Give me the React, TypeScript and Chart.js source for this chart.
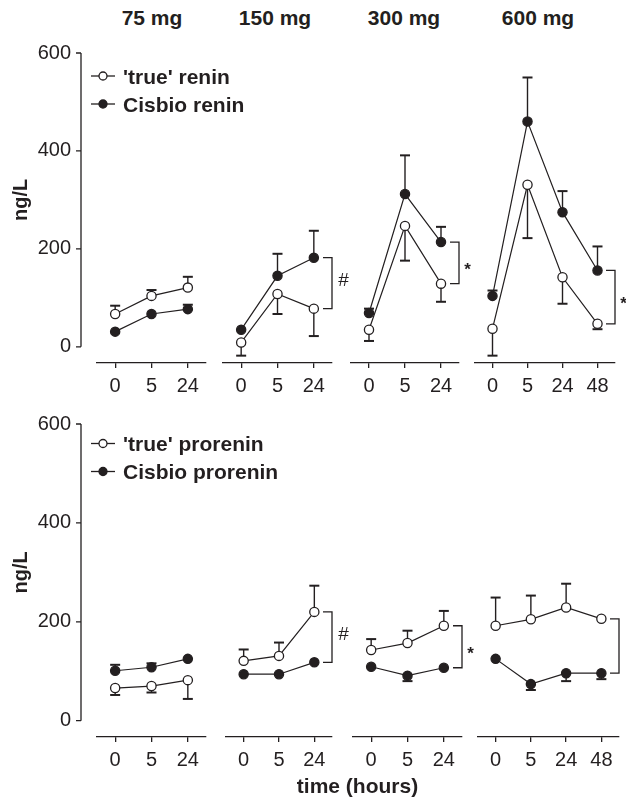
import React, { useEffect, useRef } from 'react';
import { Chart, registerables } from 'chart.js';

Chart.register(...registerables);

// ---------- data ----------
const doseLabels = ['75 mg', '150 mg', '300 mg', '600 mg'];
const timesShort = ['0', '5', '24'];
const timesLong = ['0', '5', '24', '48'];
const yTickValues = [0, 200, 400, 600];
const Y_MIN = -33;
const Y_MAX = 600;
const yTitle = 'ng/L';
const xTitle = 'time (hours)';

// renin (top row), one inner array per dose
const reninLabels = ["'true' renin", 'Cisbio renin'];
const trueReninValues = [[67, 104, 121], [9, 108, 78], [35, 247, 129], [37, 331, 142, 47]];
const trueReninErrors = [[17, 12, 22], [27, 41, 56], [23, 71, 37], [55, 109, 54, 11]];
const trueReninDir = ['up', 'down', 'down', 'down'];
const cisbioReninValues = [[31, 67, 77], [35, 145, 182], [69, 312, 214], [104, 460, 275, 156]];
const cisbioReninErrors = [[0, 0, 9], [0, 45, 55], [9, 79, 31], [11, 90, 43, 49]];
const cisbioReninDir = ['up', 'up', 'up', 'up'];
const reninBracket = [false, true, true, true];
const reninSig = ['', '#', '*', '*'];

// prorenin (bottom row)
const proreninLabels = ["'true' prorenin", 'Cisbio prorenin'];
const trueProreninValues = [[66, 70, 82], [121, 131, 220], [143, 157, 192], [192, 205, 229, 206]];
const trueProreninErrors = [[14, 13, 38], [23, 27, 53], [22, 25, 30], [57, 48, 48, 0]];
const trueProreninDir = ['down', 'up', 'up', 'up'];
const cisbioProreninValues = [[101, 108, 125], [94, 94, 118], [109, 91, 107], [125, 74, 96, 96]];
const cisbioProreninErrors = [[12, 8, 0], [0, 0, 0], [0, 11, 0], [0, 12, 16, 12]];
const cisbioProreninDir = ['up', 'down', 'down', 'down'];
const proreninBracket = [false, true, true, true];
const proreninSig = ['', '#', '*', ''];

// ---------- style / layout ----------
const INK = '#231f20';
const FONT = '"Liberation Sans", Arial, Helvetica, sans-serif';
const ROWS = [
  { chartTop: 53, chartBottom: 363, legendOffset: 23, areas: [[97, 206], [223, 332], [351, 459], [475, 615]] },
  { chartTop: 424, chartBottom: 737, legendOffset: 19.5, areas: [[97, 206], [226, 332], [353, 462], [478, 619]] },
];
const TITLE_X = [152, 275, 404, 538];

// ---------- plugins ----------
const errorBarPlugin = {
  id: 'errorBars',
  beforeDatasetsDraw(chart: any) {
    const ctx = chart.ctx;
    const y = chart.scales.y;
    chart.data.datasets.forEach((ds: any, di: number) => {
      const meta = chart.getDatasetMeta(di);
      ds.data.forEach((v: number, i: number) => {
        const e = ds.errors ? ds.errors[i] : 0;
        if (!e) return;
        const end = ds.errorDir === 'up' ? v + e : v - e;
        const px = meta.data[i].x;
        const y0 = y.getPixelForValue(v);
        const y1 = y.getPixelForValue(end);
        ctx.save();
        ctx.strokeStyle = INK;
        ctx.lineWidth = 1.4;
        ctx.beginPath();
        ctx.moveTo(px, y0);
        ctx.lineTo(px, y1);
        ctx.stroke();
        ctx.lineWidth = 2;
        ctx.beginPath();
        ctx.moveTo(px - 5, y1);
        ctx.lineTo(px + 5, y1);
        ctx.stroke();
        ctx.restore();
      });
    });
  },
};

const yAxisDecorPlugin = {
  id: 'yAxisDecor',
  afterDraw(chart: any, _args: any, opts: any) {
    if (!opts || !opts.show) return;
    const ctx = chart.ctx;
    const y = chart.scales.y;
    const x = chart.chartArea.left - 16;
    const ticks = y.ticks;
    ctx.save();
    ctx.strokeStyle = INK;
    ctx.lineWidth = 1.3;
    ctx.beginPath();
    ctx.moveTo(x, y.getPixelForValue(ticks[0].value));
    ctx.lineTo(x, y.getPixelForValue(ticks[ticks.length - 1].value));
    ticks.forEach((t: any) => {
      const py = y.getPixelForValue(t.value);
      ctx.moveTo(x - 5, py);
      ctx.lineTo(x, py);
    });
    ctx.stroke();
    // axis title
    ctx.fillStyle = INK;
    ctx.font = 'bold 20px ' + FONT;
    ctx.textAlign = 'center';
    ctx.textBaseline = 'alphabetic';
    ctx.translate(27, y.getPixelForValue((ticks[0].value + ticks[ticks.length - 1].value) / 2));
    ctx.rotate(-Math.PI / 2);
    ctx.fillText(yTitle, 0, 0);
    ctx.restore();
  },
};

const seriesLegendPlugin = {
  id: 'seriesLegend',
  afterDraw(chart: any, _args: any, opts: any) {
    if (!opts || !opts.show) return;
    const ctx = chart.ctx;
    const { left, top } = chart.chartArea;
    chart.data.datasets.forEach((ds: any, i: number) => {
      const cy = top + opts.offset + i * 28;
      ctx.save();
      ctx.strokeStyle = INK;
      ctx.lineWidth = 1.3;
      ctx.beginPath();
      ctx.moveTo(left - 6, cy);
      ctx.lineTo(left + 18, cy);
      ctx.stroke();
      ctx.beginPath();
      ctx.arc(left + 6, cy, 4, 0, Math.PI * 2);
      ctx.fillStyle = ds.pointBackgroundColor;
      ctx.fill();
      ctx.stroke();
      ctx.fillStyle = INK;
      ctx.font = 'bold 21px ' + FONT;
      ctx.textAlign = 'left';
      ctx.textBaseline = 'alphabetic';
      ctx.fillText(ds.label, left + 26, cy + 7.5);
      ctx.restore();
    });
  },
};

const bracketPlugin = {
  id: 'sigBracket',
  afterDatasetsDraw(chart: any, _args: any, opts: any) {
    if (!opts || !opts.show) return;
    const ctx = chart.ctx;
    const y = chart.scales.y;
    const dsA = chart.data.datasets[0].data;
    const dsB = chart.data.datasets[1].data;
    const ya = y.getPixelForValue(dsA[dsA.length - 1]);
    const yb = y.getPixelForValue(dsB[dsB.length - 1]);
    const x = chart.chartArea.right;
    ctx.save();
    ctx.strokeStyle = INK;
    ctx.lineWidth = 1.3;
    ctx.beginPath();
    ctx.moveTo(x - 9, ya);
    ctx.lineTo(x, ya);
    ctx.lineTo(x, yb);
    ctx.lineTo(x - 9, yb);
    ctx.stroke();
    const mid = (ya + yb) / 2;
    ctx.fillStyle = INK;
    ctx.textAlign = 'center';
    ctx.textBaseline = 'alphabetic';
    if (opts.symbol === '#') {
      ctx.font = '19px ' + FONT;
      ctx.fillText('#', x + 11.5, mid + 3);
    } else if (opts.symbol) {
      ctx.font = 'bold 17px ' + FONT;
      ctx.fillText(opts.symbol, x + 8.5, mid + 12);
    }
    ctx.restore();
  },
};

// ---------- components ----------
type Series = { label: string; values: number[]; errors: number[]; dir: string; filled: boolean };

function Panel({ rowIdx, panelIdx, labels, series, bracket, sig }: { rowIdx: number; panelIdx: number; labels: string[]; series: Series[]; bracket: boolean; sig: string }) {
  const ref = useRef<HTMLCanvasElement>(null);
  const row = ROWS[rowIdx];
  const [L, R] = row.areas[panelIdx];
  const first = panelIdx === 0;
  const padT = 40;
  const padR = first ? 120 : 30;
  const padL = first ? 0 : 12;
  const axisH = 40;
  const canvasLeft = first ? 0 : L - padL;
  const width = R - canvasLeft + padR;
  const top = row.chartTop - padT;
  const height = row.chartBottom - row.chartTop + padT + axisH;

  useEffect(() => {
    if (!ref.current) return;
    const chart = new Chart(ref.current, {
      type: 'line',
      data: {
        labels,
        datasets: series.map((s) => ({
          label: s.label,
          data: s.values,
          errors: s.errors,
          errorDir: s.dir,
          borderColor: INK,
          borderWidth: 1.2,
          tension: 0,
          fill: false,
          pointRadius: 4.6,
          pointBorderWidth: 1.3,
          pointBorderColor: INK,
          pointBackgroundColor: s.filled ? INK : '#ffffff',
          clip: false,
        })) as any,
      },
      options: {
        responsive: false,
        maintainAspectRatio: false,
        animation: false,
        devicePixelRatio: 1,
        events: [],
        layout: { padding: { left: padL, right: padR, top: padT, bottom: 0 } },
        plugins: {
          legend: { display: false },
          tooltip: { enabled: false },
          title: { display: false },
          yAxisDecor: { show: first },
          seriesLegend: { show: first, offset: row.legendOffset },
          sigBracket: { show: bracket, symbol: sig },
        } as any,
        scales: {
          x: {
            type: 'category',
            offset: true,
            grid: { display: true, drawOnChartArea: false, drawTicks: true, tickLength: 5, color: INK, lineWidth: 1.3, offset: false },
            border: { display: true, color: INK, width: 1.3 },
            ticks: { color: INK, font: { family: FONT, size: 20 }, padding: 6, maxRotation: 0, minRotation: 0, autoSkip: false },
            afterFit: (s: any) => { s.height = axisH; },
          },
          y: {
            type: 'linear',
            display: first,
            min: Y_MIN,
            max: Y_MAX,
            border: { display: false },
            grid: { display: false, drawTicks: false },
            ticks: { stepSize: 200, color: INK, font: { family: FONT, size: 20 }, padding: 26 },
            afterBuildTicks: (s: any) => { s.ticks = yTickValues.map((v) => ({ value: v })); },
            afterFit: (s: any) => { s.width = first ? L : 0; },
          },
        },
      } as any,
      plugins: [errorBarPlugin, yAxisDecorPlugin, seriesLegendPlugin, bracketPlugin],
    });
    return () => chart.destroy();
  }, []);

  return (
    <canvas
      ref={ref}
      width={width}
      height={height}
      style={{ position: 'absolute', left: canvasLeft, top, width, height }}
    />
  );
}

function buildSeries(
  names: string[],
  aVals: number[][], aErr: number[][], aDir: string[],
  bVals: number[][], bErr: number[][], bDir: string[],
  p: number,
): Series[] {
  return [
    { label: names[0], values: aVals[p], errors: aErr[p], dir: aDir[p], filled: false },
    { label: names[1], values: bVals[p], errors: bErr[p], dir: bDir[p], filled: true },
  ];
}

export default function App() {
  const panels = [0, 1, 2, 3];
  return (
    <div
      style={{
        position: 'absolute', left: 0, top: 0, width: 626, height: 799,
        overflow: 'hidden', background: '#ffffff', fontFamily: FONT, color: INK,
      }}
    >
      {doseLabels.map((d, i) => (
        <div
          key={d}
          style={{
            position: 'absolute', left: TITLE_X[i], top: 7.2, transform: 'translateX(-50%)',
            fontSize: 21, lineHeight: '21px', fontWeight: 'bold', whiteSpace: 'nowrap',
          }}
        >
          {d}
        </div>
      ))}
      {panels.map((p) => (
        <Panel
          key={'r' + p}
          rowIdx={0}
          panelIdx={p}
          labels={p === 3 ? timesLong : timesShort}
          series={buildSeries(reninLabels, trueReninValues, trueReninErrors, trueReninDir, cisbioReninValues, cisbioReninErrors, cisbioReninDir, p)}
          bracket={reninBracket[p]}
          sig={reninSig[p]}
        />
      ))}
      {panels.map((p) => (
        <Panel
          key={'p' + p}
          rowIdx={1}
          panelIdx={p}
          labels={p === 3 ? timesLong : timesShort}
          series={buildSeries(proreninLabels, trueProreninValues, trueProreninErrors, trueProreninDir, cisbioProreninValues, cisbioProreninErrors, cisbioProreninDir, p)}
          bracket={proreninBracket[p]}
          sig={proreninSig[p]}
        />
      ))}
      <div
        style={{
          position: 'absolute', left: 357.5, top: 775, transform: 'translateX(-50%)',
          fontSize: 21, lineHeight: '21px', fontWeight: 'bold', whiteSpace: 'nowrap',
        }}
      >
        {xTitle}
      </div>
    </div>
  );
}
